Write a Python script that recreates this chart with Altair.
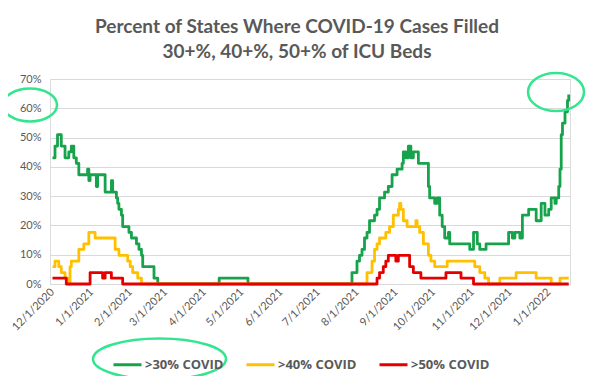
import altair as alt
import pandas as pd

# ---- data (share of 51 states) ----
green_dates = ["2020-12-01","2020-12-03","2020-12-05","2020-12-08","2020-12-11","2020-12-14","2020-12-16",
               "2020-12-18","2020-12-20","2020-12-22","2020-12-29","2020-12-30","2020-12-31","2021-01-05",
               "2021-01-06","2021-01-12","2021-01-17","2021-01-18","2021-01-21","2021-01-22","2021-01-23",
               "2021-01-25","2021-01-26","2021-01-31","2021-02-02","2021-02-06","2021-02-08","2021-02-10",
               "2021-02-11","2021-02-20","2021-02-23","2021-04-13","2021-05-06","2021-07-28","2021-08-01",
               "2021-08-03","2021-08-05","2021-08-07","2021-08-09","2021-08-11","2021-08-15","2021-08-17",
               "2021-08-19","2021-08-23","2021-08-26","2021-08-29","2021-09-02","2021-09-06","2021-09-07",
               "2021-09-09","2021-09-11","2021-09-13","2021-09-15","2021-09-19","2021-09-27","2021-09-28",
               "2021-10-02","2021-10-04","2021-10-06","2021-10-08","2021-10-10","2021-10-13","2021-10-14",
               "2021-10-30","2021-11-02","2021-11-05","2021-11-07","2021-11-12","2021-11-30","2021-12-03",
               "2021-12-05","2021-12-09","2021-12-11","2021-12-16","2021-12-22","2021-12-26","2021-12-29",
               "2022-01-01","2022-01-03","2022-01-06","2022-01-07","2022-01-09","2022-01-10","2022-01-11",
               "2022-01-12","2022-01-14","2022-01-16","2022-01-17"]
green_vals = [0.431,0.471,0.510,0.471,0.431,0.451,0.471,
              0.431,0.412,0.373,0.392,0.353,0.373,0.333,
              0.373,0.314,0.353,0.314,0.294,0.275,0.255,
              0.235,0.196,0.176,0.157,0.137,0.118,0.098,
              0.059,0.020,0.000,0.020,0.000,0.039,0.078,
              0.098,0.118,0.157,0.176,0.216,0.235,0.255,
              0.294,0.314,0.333,0.373,0.392,0.412,0.451,
              0.431,0.471,0.431,0.451,0.412,0.333,0.294,
              0.275,0.294,0.235,0.196,0.157,0.176,0.137,
              0.118,0.176,0.137,0.118,0.137,0.176,0.157,
              0.176,0.157,0.235,0.255,0.216,0.275,0.235,
              0.255,0.294,0.275,0.294,0.333,0.392,0.510,
              0.549,0.588,0.627,0.647]

yellow_dates = ["2020-12-01","2020-12-03","2020-12-06","2020-12-08","2020-12-11","2020-12-14","2020-12-15",
                "2020-12-16","2020-12-22","2020-12-26","2020-12-30","2021-01-04","2021-01-20","2021-01-23",
                "2021-01-30","2021-02-01","2021-02-03","2021-02-07","2021-02-10","2021-08-09","2021-08-13",
                "2021-08-15","2021-08-17","2021-08-19","2021-08-24","2021-08-27","2021-08-30","2021-09-03",
                "2021-09-04","2021-09-05","2021-09-07","2021-09-10","2021-09-17","2021-09-18","2021-09-20",
                "2021-09-23","2021-09-27","2021-09-29","2021-10-02","2021-10-12","2021-11-03","2021-11-07",
                "2021-11-11","2021-11-14","2021-11-23","2021-12-06","2021-12-22","2022-01-03","2022-01-10",
                "2022-01-17"]
yellow_vals = [0.059,0.078,0.059,0.039,0.020,0.000,0.059,
               0.078,0.118,0.137,0.176,0.157,0.118,0.098,
               0.078,0.059,0.039,0.020,0.000,0.039,0.078,
               0.118,0.137,0.157,0.176,0.196,0.235,0.255,
               0.275,0.255,0.216,0.196,0.216,0.196,0.176,
               0.137,0.098,0.078,0.059,0.078,0.059,0.039,
               0.020,0.000,0.020,0.039,0.020,0.000,0.020,
               0.020]

red_dates = ["2020-12-01","2020-12-12","2020-12-31","2021-01-10","2021-01-12","2021-01-17","2021-01-26",
             "2021-08-17","2021-08-19","2021-08-22","2021-08-24","2021-08-26","2021-09-01","2021-09-03",
             "2021-09-12","2021-09-15","2021-09-21","2021-10-11","2021-10-23","2021-11-02","2022-01-17"]
red_vals = [0.020,0.000,0.039,0.020,0.039,0.020,0.000,
            0.020,0.039,0.059,0.078,0.098,0.078,0.098,
            0.059,0.039,0.020,0.039,0.020,0.000,0.000]

series_names = [">30% COVID", ">40% COVID", ">50% COVID"]
series_colors = ["#17A34B", "#FFC000", "#E50000"]

tick_months = [(2020, 12)] + [(2021, m) for m in range(1, 13)] + [(2022, 1)]
y_ticks = [0, 0.1, 0.2, 0.3, 0.4, 0.5, 0.6, 0.7]

title_lines = ["Percent of States Where COVID-19 Cases Filled", "30+%, 40+%, 50+% of ICU Beds"]

rows = []
for name, ds, vs in zip(series_names, [green_dates, yellow_dates, red_dates], [green_vals, yellow_vals, red_vals]):
    for d, v in zip(ds, vs):
        rows.append({"series": name, "date": d + "T00:00:00", "value": v})
df = pd.DataFrame(rows)

GRAY = "#595959"
FONT = "Lato"

lines = alt.Chart(df).mark_line(interpolate="step-after", strokeWidth=2.8, strokeJoin="round").encode(
    x=alt.X("date:T", title=None,
            scale=alt.Scale(domain=[alt.DateTime(year=2020, month=11, date=29),
                                    alt.DateTime(year=2022, month=1, date=18)]),
            axis=alt.Axis(values=[alt.DateTime(year=y, month=m, date=1) for y, m in tick_months],
                          format="%-m/%-d/%Y", labelAngle=-45, labelAlign="right", labelBaseline="middle",
                          labelPadding=6, ticks=False, grid=False, domain=True, domainColor="#D9D9D9",
                          labelFont=FONT, labelFontSize=11, labelColor=GRAY, labelOverlap=False)),
    y=alt.Y("value:Q", title=None, scale=alt.Scale(domain=[0, 0.7]),
            axis=alt.Axis(values=y_ticks, format=".0%", ticks=False, domain=False, grid=True,
                          gridColor="#D9D9D9", labelPadding=9, labelFont=FONT, labelFontSize=11,
                          labelColor=GRAY)),
    color=alt.Color("series:N", title=None,
                    scale=alt.Scale(domain=series_names, range=series_colors),
                    legend=alt.Legend(orient="none", legendX=62, legendY=270, direction="horizontal",
                                      symbolType="stroke", symbolSize=784, symbolStrokeWidth=3,
                                      labelFont="Open Sans", labelFontSize=13, labelFontWeight="bold",
                                      labelColor=GRAY, labelOffset=2, columnPadding=16, padding=0)),
    order=alt.Order("date:T"),
)

def ellipse_path(k):
    c = 0.5523
    return (f"M 1 0 C 1 {c*k:.4f} {c:.4f} {k:.4f} 0 {k:.4f} "
            f"C {-c:.4f} {k:.4f} -1 {c*k:.4f} -1 0 "
            f"C -1 {-c*k:.4f} {-c:.4f} {-k:.4f} 0 {-k:.4f} "
            f"C {c:.4f} {-k:.4f} 1 {-c*k:.4f} 1 0 Z")

one = pd.DataFrame({"a": [0]})
def ellipse(cx, cy, rx, ry):
    return alt.Chart(one).mark_point(shape=ellipse_path(ry / rx), size=(2 * rx) ** 2, filled=False,
                                     stroke="#33E68E", strokeWidth=2.5, opacity=1).encode(
        x=alt.value(cx), y=alt.value(cy))

chart = alt.layer(
    lines,
    ellipse(-20, 26, 27, 16.5),
    ellipse(506, 13, 28, 19),
    ellipse(109.5, 280, 66.5, 20.5),
).properties(
    width=520, height=205,
    title=alt.TitleParams(text=title_lines, font=FONT, fontSize=19, fontWeight="bold", color=GRAY,
                          anchor="middle", dx=-13, offset=6, lineHeight=25),
    autosize=alt.AutoSizeParams(type="none"),
    padding={"left": 42, "top": 71, "right": 16, "bottom": 92},
).configure_view(stroke=None).configure(background="white")

chart.save("out.html", embed_options={"renderer": "svg", "actions": False})
